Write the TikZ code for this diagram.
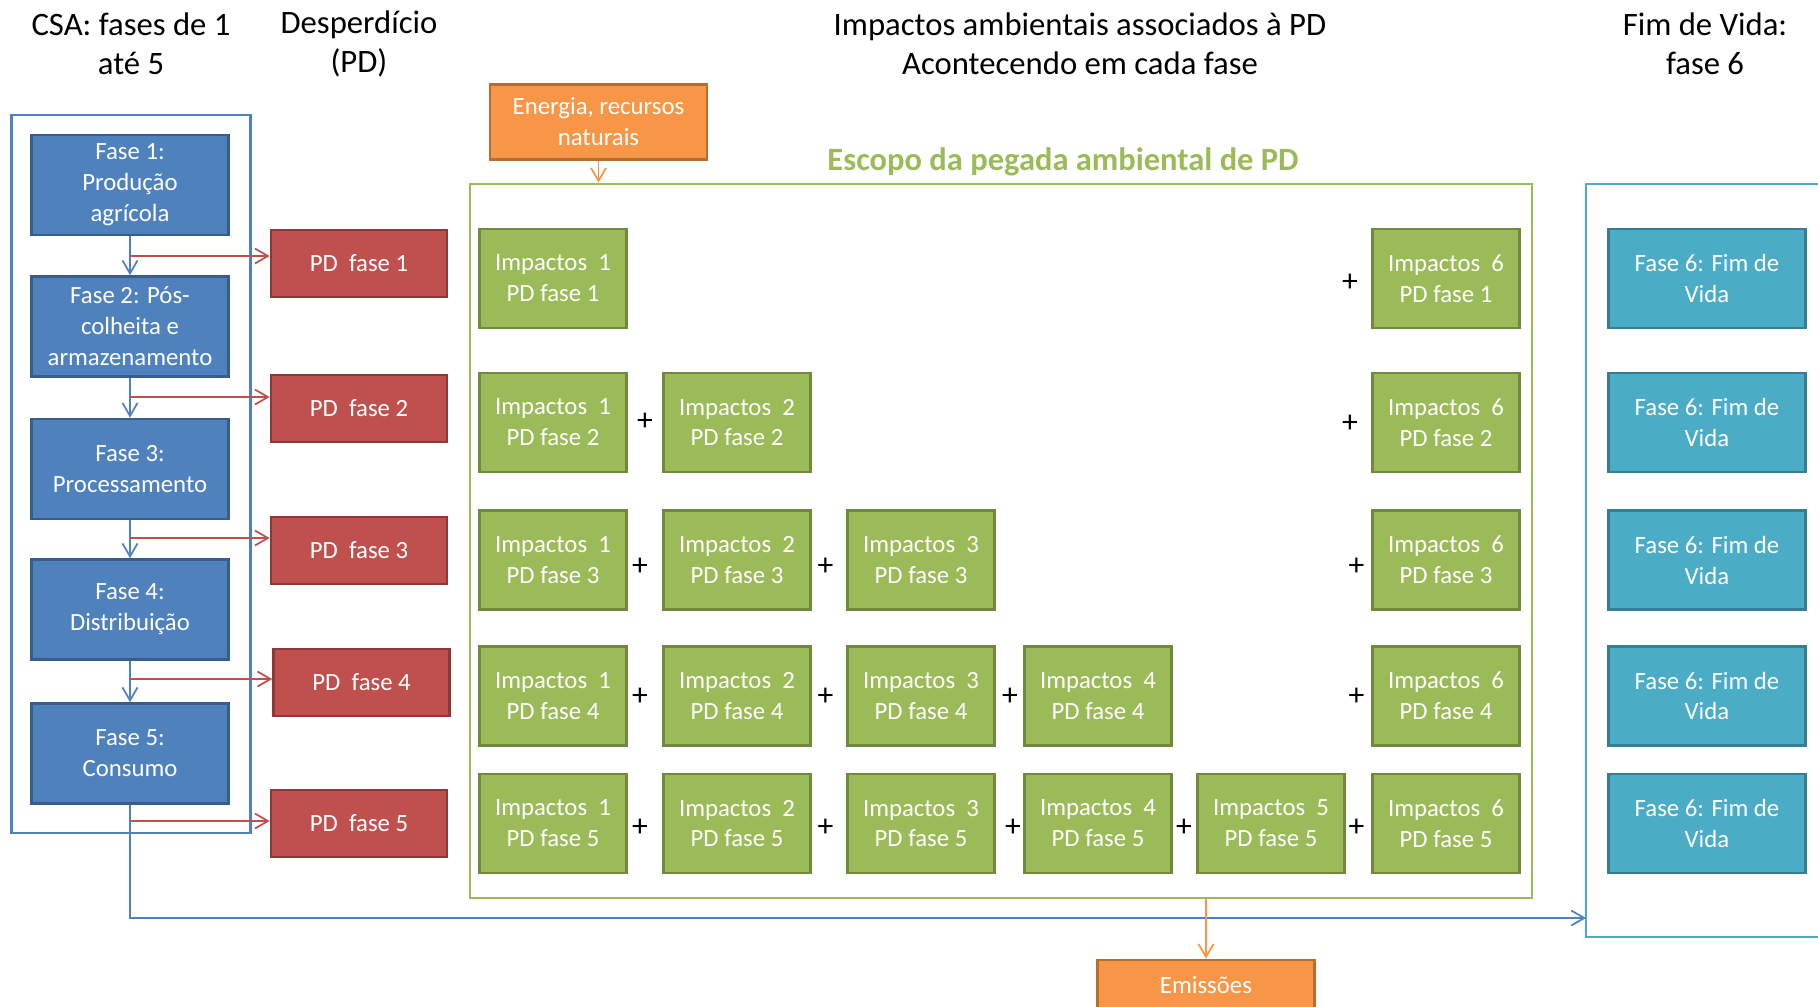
\documentclass[tikz,border=0pt]{standalone}
\usepackage{fontspec}
\setmainfont{Carlito}
\usepackage{tikz}
\usetikzlibrary{arrows.meta}

\definecolor{azul}{HTML}{4F81BD}
\definecolor{azulesc}{HTML}{385D8A}
\definecolor{verm}{HTML}{C0504D}
\definecolor{vermesc}{HTML}{8C3836}
\definecolor{verde}{HTML}{9BBB59}
\definecolor{verdeesc}{HTML}{71893F}
\definecolor{ciano}{HTML}{4BACC6}
\definecolor{cianoesc}{HTML}{357D91}
\definecolor{laranja}{HTML}{F79646}
\definecolor{laranjaesc}{HTML}{B66D31}

\begin{document}
\begin{tikzpicture}[x=1cm,y=-1cm,>={Straight Barb[length=1.3mm,width=1.5mm]}]
\tikzstyle{every node}=[align=center,inner sep=0pt,font=\fontsize{7.05}{8.8}\selectfont];
\tikzstyle{titulo}=[font=\fontsize{9.3}{11.2}\selectfont];
\tikzstyle{moldura}=[line width=0.75pt,inner sep=0pt];
\tikzstyle{fase}=[draw=azulesc,fill=azul,text=white,line width=0.75pt,minimum width=1.97cm,minimum height=1cm];
\tikzstyle{pd}=[draw=vermesc,fill=verm,text=white,line width=0.75pt,minimum width=1.76cm,minimum height=0.67cm];
\tikzstyle{imp}=[draw=verdeesc,fill=verde,text=white,line width=0.75pt,minimum width=1.47cm,minimum height=0.99cm];
\tikzstyle{vida}=[draw=cianoesc,fill=ciano,text=white,line width=0.75pt,minimum width=1.97cm,minimum height=0.99cm];
\tikzstyle{fonte}=[draw=laranjaesc,fill=laranja,text=white,line width=0.75pt,minimum width=2.17cm];
\tikzstyle{mais}=[font=\fontsize{9}{9}\selectfont];
\tikzstyle{seta}=[->,line width=0.5pt];

\useasboundingbox (0,0) rectangle (18.18,10.06);

% titulos
\node[titulo] (t1) at (1.31,0.44) {CSA: fases de 1\\até 5};
\node[titulo] (t2) at (3.59,0.44) {Desperdício\\(PD)};
\node[titulo] (t3) at (10.80,0.44) {Impactos ambientais associados à PD\\Acontecendo em cada fase};
\node[titulo] (t4) at (17.05,0.44) {Fim de Vida:\\fase 6};

% molduras
\node[moldura,draw=azul,minimum width=2.39cm,minimum height=7.18cm] (csa) at (1.31,4.74) {};
\node[moldura,draw=verde,minimum width=10.62cm,minimum height=7.14cm] (escopo) at (10.01,5.41) {};
\node[moldura,draw=ciano,minimum width=2.6cm,minimum height=7.53cm] (fimv) at (17.16,5.605) {};
\node[text=verde,font=\bfseries\fontsize{9.25}{10}\selectfont] (esc) at (10.63,1.62) {Escopo da pegada ambiental de PD};

% fases da CSA
\node[fase] (f1) at (1.30,1.85) {Fase 1:\\Produção\\agrícola};
\node[fase] (f2) at (1.30,3.265) {Fase 2: Pós-\\colheita e\\armazenamento};
\node[fase] (f3) at (1.30,4.69) {Fase 3:\\Processamento};
\node[fase] (f4) at (1.30,6.095) {Fase 4:\\Distribuição};
\node[fase] (f5) at (1.30,7.535) {Fase 5:\\Consumo};

% desperdicio
\node[pd] (pd1) at (3.59,2.635) {PD~~fase 1};
\node[pd] (pd2) at (3.59,4.085) {PD~~fase 2};
\node[pd] (pd3) at (3.59,5.505) {PD~~fase 3};
\node[pd] (pd4) at (3.616,6.825) {PD~~fase 4};
\node[pd] (pd5) at (3.59,8.235) {PD~~fase 5};

% impactos
\node[imp] (im11) at (5.53,2.785) {Impactos~~1\\PD fase 1};
\node[imp] (im61) at (14.46,2.785) {Impactos~~6\\PD fase 1};

\node[imp] (im12) at (5.53,4.225) {Impactos~~1\\PD fase 2};
\node[imp] (im22) at (7.37,4.225) {Impactos~~2\\PD fase 2};
\node[imp] (im62) at (14.46,4.225) {Impactos~~6\\PD fase 2};

\node[imp] (im13) at (5.53,5.60) {Impactos~~1\\PD fase 3};
\node[imp] (im23) at (7.37,5.60) {Impactos~~2\\PD fase 3};
\node[imp] (im33) at (9.21,5.60) {Impactos~~3\\PD fase 3};
\node[imp] (im63) at (14.46,5.60) {Impactos~~6\\PD fase 3};

\node[imp] (im14) at (5.53,6.96) {Impactos~~1\\PD fase 4};
\node[imp] (im24) at (7.37,6.96) {Impactos~~2\\PD fase 4};
\node[imp] (im34) at (9.21,6.96) {Impactos~~3\\PD fase 4};
\node[imp] (im44) at (10.98,6.96) {Impactos~~4\\PD fase 4};
\node[imp] (im64) at (14.46,6.96) {Impactos~~6\\PD fase 4};

\node[imp] (im15) at (5.53,8.235) {Impactos~~1\\PD fase 5};
\node[imp] (im25) at (7.37,8.235) {Impactos~~2\\PD fase 5};
\node[imp] (im35) at (9.21,8.235) {Impactos~~3\\PD fase 5};
\node[imp] (im45) at (10.98,8.235) {Impactos~~4\\PD fase 5};
\node[imp] (im55) at (12.71,8.235) {Impactos~~5\\PD fase 5};
\node[imp] (im65) at (14.46,8.235) {Impactos~~6\\PD fase 5};

% sinais de soma
\node[mais] (s61) at (13.50,2.83) {+};
\node[mais] (s22) at (6.45,4.22) {+};
\node[mais] (s62) at (13.50,4.24) {+};
\node[mais] (s23) at (6.40,5.67) {+};
\node[mais] (s33) at (8.255,5.67) {+};
\node[mais] (s63) at (13.565,5.67) {+};
\node[mais] (s24) at (6.40,6.97) {+};
\node[mais] (s34) at (8.255,6.97) {+};
\node[mais] (s44) at (10.10,6.97) {+};
\node[mais] (s64) at (13.565,6.97) {+};
\node[mais] (s25) at (6.40,8.28) {+};
\node[mais] (s35) at (8.255,8.28) {+};
\node[mais] (s45) at (10.13,8.28) {+};
\node[mais] (s55) at (11.84,8.28) {+};
\node[mais] (s65) at (13.565,8.28) {+};

% fim de vida
\node[vida] (v1) at (17.07,2.785) {Fase 6: Fim de\\Vida};
\node[vida] (v2) at (17.07,4.225) {Fase 6: Fim de\\Vida};
\node[vida] (v3) at (17.07,5.60) {Fase 6: Fim de\\Vida};
\node[vida] (v4) at (17.07,6.96) {Fase 6: Fim de\\Vida};
\node[vida] (v5) at (17.07,8.235) {Fase 6: Fim de\\Vida};

% entradas e saidas
\node[fonte,minimum height=0.75cm] (energia) at (5.985,1.217) {Energia, recursos\\naturais};
\node[fonte,minimum height=0.5cm] (emis) at (12.06,9.85) {Emissões};

% setas
\draw [seta,azul] (f1) -- (f2);
\draw [seta,azul] (f2) -- (f3);
\draw [seta,azul] (f3) -- (f4);
\draw [seta,azul] (f4) -- (f5);

\coordinate (r1) at (1.30,2.56);
\coordinate (r2) at (1.30,3.97);
\coordinate (r3) at (1.30,5.38);
\coordinate (r4) at (1.30,6.79);
\coordinate (r5) at (1.30,8.21);
\draw [seta,verm] (r1) -- (r1 -| pd1.west);
\draw [seta,verm] (r2) -- (r2 -| pd2.west);
\draw [seta,verm] (r3) -- (r3 -| pd3.west);
\draw [seta,verm] (r4) -- (r4 -| pd4.west);
\draw [seta,verm] (r5) -- (r5 -| pd5.west);

\coordinate (e1) at (15.86,9.18);
\draw [seta,azul] (f5) |- (e1);

\draw [seta,laranja] (energia) -- (energia |- escopo.north);
\draw [seta,laranja] (emis |- escopo.south) -- (emis);
\end{tikzpicture}
\end{document}
